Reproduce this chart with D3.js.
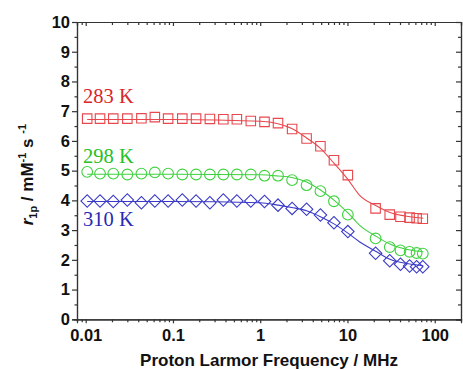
<!DOCTYPE html>
<html>
<head>
<meta charset="utf-8">
<script src="https://cdn.jsdelivr.net/npm/d3@7"></script>
<style>
  body { margin: 0; background: #fff; }
  .axis text { font-family: "Liberation Sans", Arial, sans-serif; font-weight: bold; font-size: 16.5px; fill: #111; }
  .axis path, .axis line { stroke: #333; stroke-width: 1.2; }
</style>
</head>
<body>
<script>
var w = 463;
var h = 370;

// measured frequencies (MHz)
var freq = [0.0104, 0.0146, 0.0207, 0.030, 0.0435, 0.062, 0.088, 0.128, 0.184, 0.265, 0.378, 0.54, 0.78,
  1.12, 1.6, 2.32, 3.4, 4.9, 7.0, 10.1, 21, 30.5, 40.5, 51.5, 62, 73];
var r283 = [6.75, 6.75, 6.75, 6.75, 6.76, 6.80, 6.75, 6.75, 6.75, 6.74, 6.73, 6.73, 6.67,
  6.64, 6.60, 6.40, 6.08, 5.82, 5.35, 4.85, 3.73, 3.52, 3.45, 3.42, 3.40, 3.38];
var r298 = [4.96, 4.90, 4.90, 4.87, 4.90, 4.94, 4.90, 4.87, 4.87, 4.87, 4.87, 4.87, 4.87,
  4.83, 4.83, 4.68, 4.51, 4.31, 3.97, 3.52, 2.72, 2.43, 2.32, 2.27, 2.23, 2.21];
var r310 = [3.98, 3.98, 3.96, 4.01, 3.92, 3.98, 3.98, 4.01, 3.98, 3.92, 4.01, 3.98, 3.98,
  3.96, 3.84, 3.73, 3.70, 3.51, 3.25, 2.95, 2.22, 1.97, 1.85, 1.79, 1.77, 1.77];

// fitted curves
var fitFreq = [0.0104, 0.1, 1, 1.6, 2.3, 3.4, 4.9, 7, 10.2, 13.7, 21.6, 30.7, 52, 74];
var fit283 = [6.72, 6.72, 6.66, 6.58, 6.42, 6.10, 5.75, 5.25, 4.69, 4.18, 3.81, 3.59, 3.45, 3.40];
var fit298 = [4.88, 4.88, 4.86, 4.82, 4.77, 4.62, 4.35, 4.01, 3.57, 3.17, 2.78, 2.53, 2.33, 2.27];
var fit310 = [3.96, 3.96, 3.92, 3.84, 3.76, 3.65, 3.45, 3.21, 2.89, 2.61, 2.27, 2.02, 1.86, 1.80];

var xMajor = [0.01, 0.1, 1, 10, 100];
var yMajor = [0, 1, 2, 3, 4, 5, 6, 7, 8, 9, 10];
var xMinor = [];
[0.001, 0.01, 0.1, 1, 10, 100].forEach(function (d) {
  for (var k = 2; k <= 9; k++) {
    var v = d * k;
    if (v > 0.0081 && v < 199) xMinor.push(v);
  }
});
var yMinor = d3.range(0.5, 10, 1);

var series = [
  { name: "283 K", vals: r283, fit: fit283, color: "#e8474c", text: "#d8262b", shape: d3.symbolSquare, size: 90, rot: 0, ly: 7.52 },
  { name: "298 K", vals: r298, fit: fit298, color: "#3fd23f", text: "#25c125", shape: d3.symbolCircle, size: 90, rot: 0, ly: 5.5 },
  { name: "310 K", vals: r310, fit: fit310, color: "#3a3ac8", text: "#2a2ab2", shape: d3.symbolSquare, size: 78, rot: 45, ly: 3.37 }
];

var pLeft = 77, pRight = 461, pTop = 22, pBottom = 319.3;

var svg = d3.select("body").append("svg")
  .attr("width", w)
  .attr("height", h)
  .style("background-color", "white");

var x = d3.scaleLog().domain([0.00795, 200]).range([pLeft, pRight]);
var y = d3.scaleLinear().domain([0, 10]).range([pBottom, pTop]);

// axes
function addAxis(axis, tf) {
  var g = svg.append("g").attr("class", "axis").attr("transform", tf).call(axis);
  return g;
}
addAxis(d3.axisBottom(x).tickValues(xMajor).tickFormat(function (d) { return d; }).tickSize(4).tickPadding(6), "translate(0," + pBottom + ")");
addAxis(d3.axisBottom(x).tickValues(xMinor).tickFormat("").tickSize(3), "translate(0," + pBottom + ")");
addAxis(d3.axisTop(x).tickValues(xMajor).tickFormat("").tickSize(-4), "translate(0," + pTop + ")");
addAxis(d3.axisTop(x).tickValues(xMinor).tickFormat("").tickSize(-3), "translate(0," + pTop + ")");
addAxis(d3.axisLeft(y).tickValues(yMajor).tickSize(5).tickPadding(2), "translate(" + pLeft + ",0)");
addAxis(d3.axisLeft(y).tickValues(yMinor).tickFormat("").tickSize(2.5), "translate(" + pLeft + ",0)");
addAxis(d3.axisRight(y).tickValues(yMajor).tickFormat("").tickSize(-5), "translate(" + pRight + ",0)");
addAxis(d3.axisRight(y).tickValues(yMinor).tickFormat("").tickSize(-3), "translate(" + pRight + ",0)");
svg.selectAll(".axis path").attr("stroke-width", 1.3);

// fit lines
var line = d3.line()
  .x(function (d) { return x(d[0]); })
  .y(function (d) { return y(d[1]); })
  .curve(d3.curveMonotoneX);

var g = svg.selectAll("g.series")
  .data(series)
  .join("g")
  .attr("class", "series");

g.append("path")
  .attr("d", function (d) {
    return line(fitFreq.map(function (f, i) { return [f, d.fit[i]]; }));
  })
  .attr("fill", "none")
  .attr("stroke", function (d) { return d.color; })
  .attr("stroke-width", 1.1);

g.selectAll("path.pt")
  .data(function (d) {
    return d.vals.map(function (v, i) { return { f: freq[i], v: v, s: d }; });
  })
  .join("path")
  .attr("class", "pt")
  .attr("transform", function (d) {
    return "translate(" + x(d.f) + "," + y(d.v) + ") rotate(" + d.s.rot + ")";
  })
  .attr("d", function (d) { return d3.symbol().type(d.s.shape).size(d.s.size)(); })
  .attr("fill", "none")
  .attr("stroke", function (d) { return d.s.color; })
  .attr("stroke-width", 1.1);

g.append("text")
  .attr("x", 83)
  .attr("y", function (d) { return y(d.ly) + 7; })
  .attr("fill", function (d) { return d.text; })
  .style("font-family", "'Liberation Serif', 'Times New Roman', serif")
  .style("font-size", "20.5px")
  .text(function (d) { return d.name; });

// axis titles
svg.append("text")
  .attr("x", (pLeft + pRight) / 2)
  .attr("y", 366)
  .attr("text-anchor", "middle")
  .style("font-family", "'Liberation Sans', Arial, sans-serif")
  .style("font-weight", "bold")
  .style("font-size", "17px")
  .attr("fill", "#111")
  .text("Proton Larmor Frequency / MHz");

var yt = svg.append("text")
  .attr("transform", "translate(33," + ((pTop + pBottom) / 2 + 4) + ") rotate(-90)")
  .attr("text-anchor", "middle")
  .style("font-family", "'Liberation Sans', Arial, sans-serif")
  .style("font-weight", "bold")
  .style("font-size", "17px")
  .attr("fill", "#111");
yt.append("tspan").style("font-style", "italic").text("r");
yt.append("tspan").attr("dy", 4).style("font-size", "11px").text("1p");
yt.append("tspan").attr("dy", -4).text(" / mM");
yt.append("tspan").attr("dy", -7).style("font-size", "11px").text("-1");
yt.append("tspan").attr("dy", 7).text(" s ");
yt.append("tspan").attr("dy", -7).style("font-size", "11px").text("-1");
</script>
</body>
</html>
